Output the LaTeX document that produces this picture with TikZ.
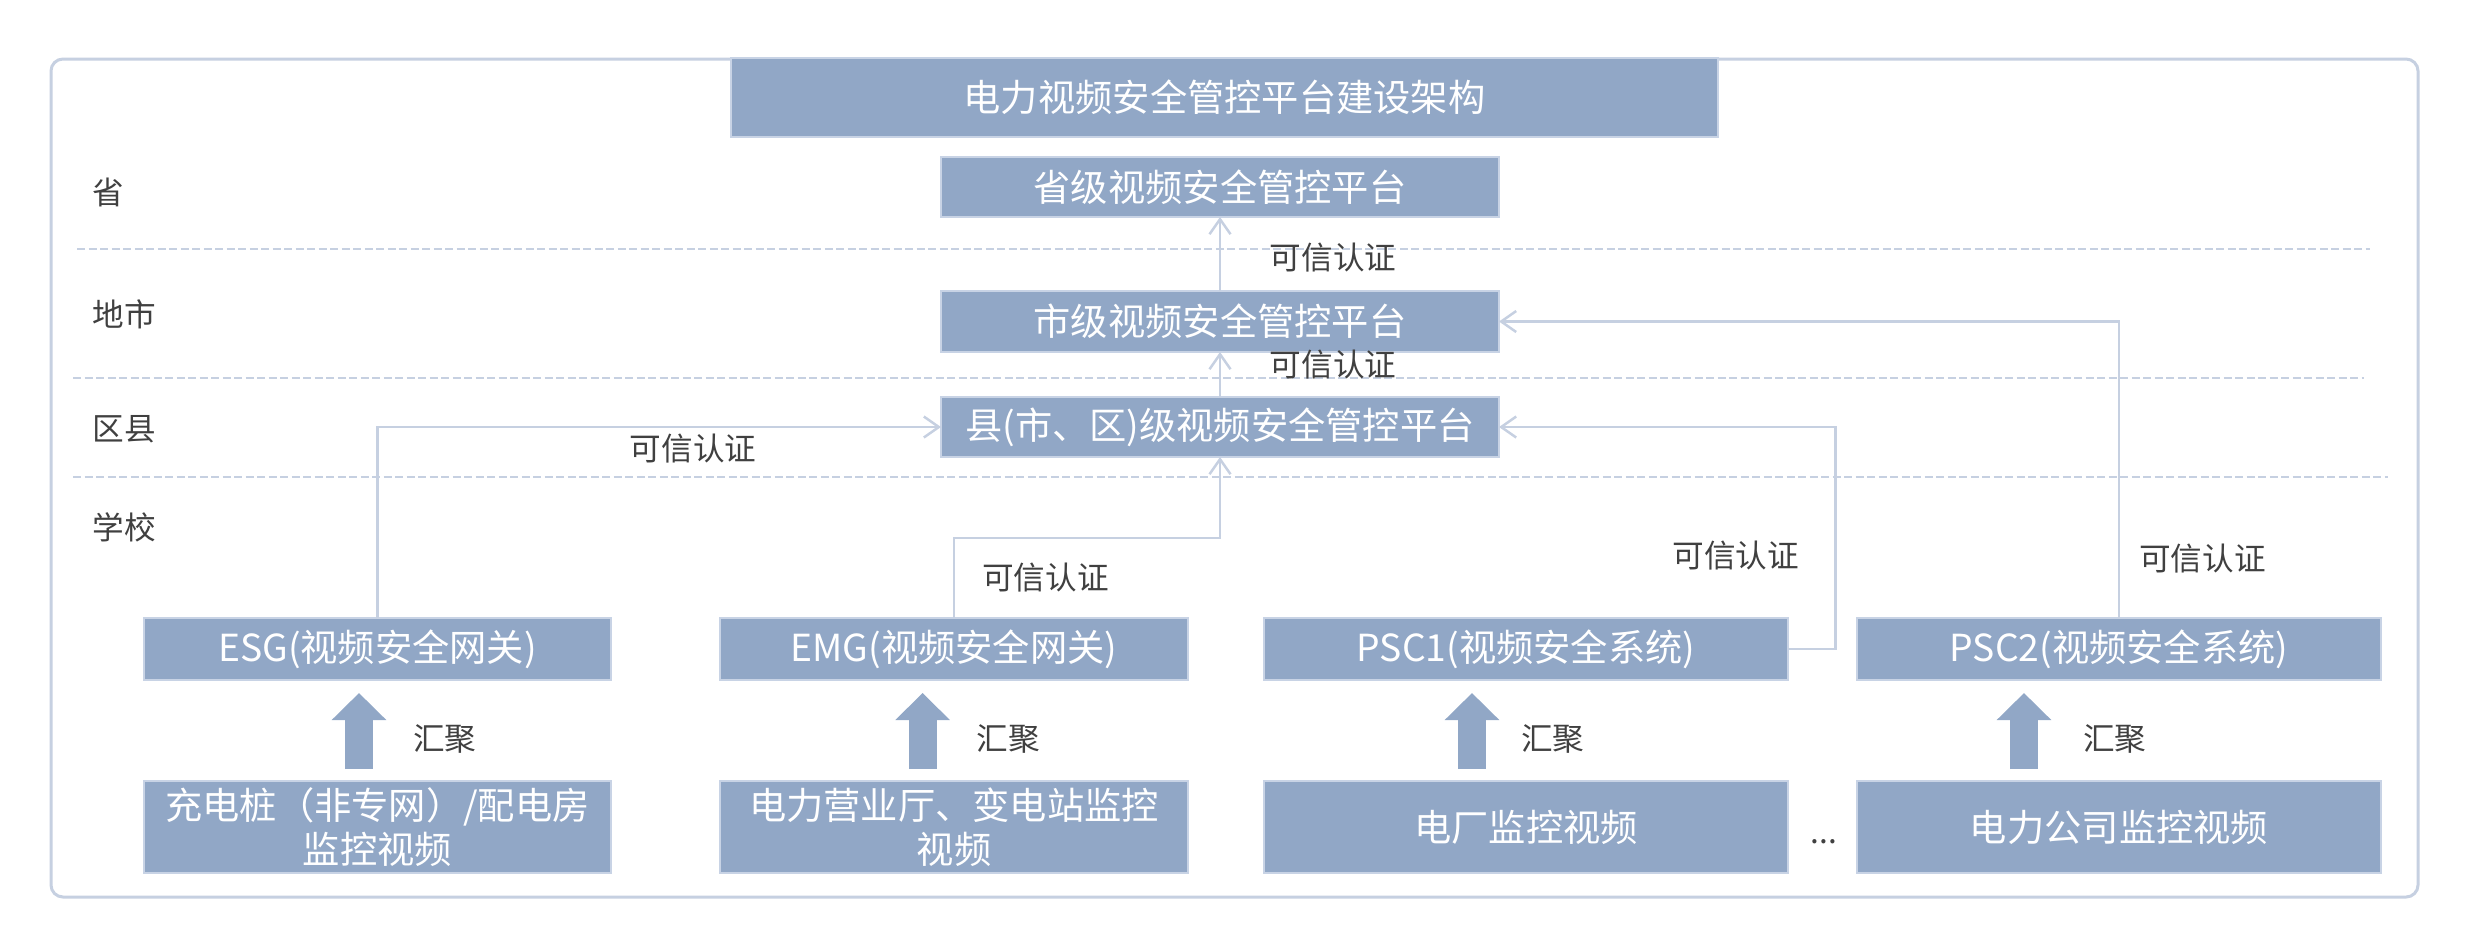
\documentclass[tikz,border=0pt]{standalone}
\usepackage{fontspec}
\setmainfont{Noto Sans CJK SC}
\usepackage{tikz}
\usetikzlibrary{positioning,arrows.meta,calc}
\definecolor{boxblue}{HTML}{91A7C6}
\definecolor{edgeblue}{HTML}{C8D3E5}
\definecolor{linegray}{HTML}{C6D0E1}
\definecolor{txtgray}{HTML}{404040}

\begin{document}
\begin{tikzpicture}[x=0.1mm,y=-0.1mm,
    box/.style={rectangle,fill=boxblue,draw=edgeblue,line width=0.2mm,inner sep=0pt,outer sep=0pt,
      text=white,align=center,font=\fontsize{10.6}{12.4}\selectfont},
    gw/.style={box,minimum height=6.2mm},
    src/.style={box,minimum height=9.2mm},
    lbl/.style={inner sep=0pt,text=txtgray,font=\fontsize{9}{10}\selectfont},
    conn/.style={draw=linegray,line width=0.25mm,-{Straight Barb[length=1.5mm,width=2.1mm]}},
    layer/.style={draw=linegray,line width=0.25mm,dash pattern=on 0.8mm off 0.35mm},
    fat/.style={draw=boxblue,line width=2.8mm,-{Triangle[length=2.7mm,width=5.3mm]}}]
    \useasboundingbox (0,0) rectangle (2478,936);

    % frame and levels
    \draw[draw=linegray,line width=0.3mm,rounded corners=1.2mm] (51,59) rectangle (2418,897);
    \draw[layer] (77,249) -- (2370,249);
    \draw[layer] (73,378) -- (2364,378);
    \draw[layer] (73,477) -- (2388,477);

    \node[lbl,anchor=west] (l_prov) at (92,192) {省};
    \node[lbl,anchor=west] (l_city) at (92,314) {地市};
    \node[lbl,anchor=west] (l_cnty) at (92,429) {区县};
    \node[lbl,anchor=west] (l_schl) at (92,527) {学校};

    % platforms
    \node[box,minimum width=98.7mm,minimum height=7.9mm] (title) at (1224.5,97.5) {电力视频安全管控平台建设架构};
    \node[box,minimum width=55.8mm,minimum height=6mm]   (prov) at (1220,187) {省级视频安全管控平台};
    \node[box,minimum width=55.8mm,minimum height=6.1mm] (city) [below=7.4mm of prov] {市级视频安全管控平台};
    \node[box,minimum width=55.8mm,minimum height=6mm]   (cnty) [below=4.5mm of city] {县(市、区)级视频安全管控平台};

    % gateways and sources
    \node[gw,minimum width=46.7mm] (g_1) at (377.5,649) {ESG(视频安全网关)};
    \node[gw,minimum width=46.8mm] (g_2) [right=10.9mm of g_1] {EMG(视频安全网关)};
    \node[gw,minimum width=52.4mm] (g_3) [right=7.6mm of g_2] {PSC1(视频安全系统)};
    \node[gw,minimum width=52.4mm] (g_4) [right=6.9mm of g_3] {PSC2(视频安全系统)};

    \node[src,minimum width=46.7mm] (s_1) [below=10.1mm of g_1] {充电桩（非专网）/配电房\\监控视频};
    \node[src,minimum width=46.8mm] (s_2) [below=10.1mm of g_2] {电力营业厅、变电站监控\\视频};
    \node[src,minimum width=52.4mm] (s_3) [below=10.1mm of g_3] {电厂监控视频};
    \node[src,minimum width=52.4mm] (s_4) [below=10.1mm of g_4] {电力公司监控视频};
    \node[lbl] (more) at (1824,841.5) {...};

    % trusted links
    \draw[conn] (city.north) -- node[lbl,pos=0.45,right=4.85mm] {可信认证} (prov.south);
    \draw[conn] (cnty.north) -- node[lbl,pos=0.73,right=4.85mm] {可信认证} (city.south);
    \draw[conn] (g_1.north) |- node[lbl,pos=0.78,below=0.6mm] {可信认证} (cnty.west);
    \draw[conn] (g_2.north) -- node[lbl,right=2.7mm] {可信认证} ++(0,-80) -| (cnty.south);
    \draw[conn] (g_3.east) -- ++(47.5,0) |- node[lbl,pos=0.21,left=3.5mm] {可信认证} (cnty.east);
    \draw[conn] (g_4.north) |- node[lbl,pos=0.1,right=1.9mm] {可信认证} (city.east);

    % aggregation
    \draw[fat] ($(s_1.north)+(-18.5,-12)$) -- node[lbl,pos=0.4,right=4mm] {汇聚} ($(g_1.south)+(-18.5,13)$);
    \draw[fat] ($(s_2.north)+(-31.4,-12)$) -- node[lbl,pos=0.4,right=4mm] {汇聚} ($(g_2.south)+(-31.4,13)$);
    \draw[fat] ($(s_3.north)+(-54,-12)$) -- node[lbl,pos=0.4,right=3.5mm] {汇聚} ($(g_3.south)+(-54,13)$);
    \draw[fat] ($(s_4.north)+(-95,-12)$) -- node[lbl,pos=0.4,right=4.5mm] {汇聚} ($(g_4.south)+(-95,13)$);
\end{tikzpicture}
\end{document}
